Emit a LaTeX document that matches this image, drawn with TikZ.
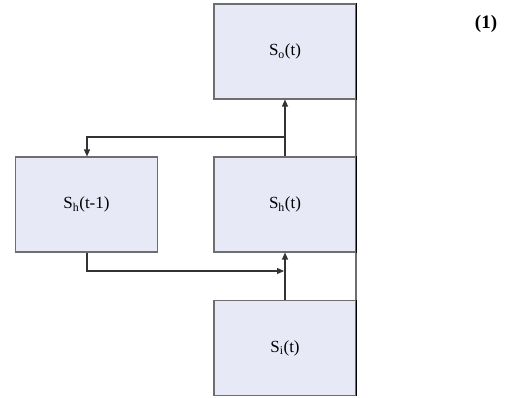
\documentclass[tikz,border=0pt]{standalone}
\usepackage{fontspec}
\setmainfont{Liberation Serif}
\usetikzlibrary{arrows.meta}
\definecolor{boxfill}{HTML}{E7EAF6}
\definecolor{boxline}{HTML}{6E6E6E}
\begin{document}
\begin{tikzpicture}[x=1pt,y=-1pt,
  unit/.style={draw=boxline,fill=boxfill,line width=1.1pt,minimum width=142pt,minimum height=95pt,inner sep=0pt,font=\fontsize{17}{19}\selectfont},
  wire/.style={draw=black!80,line width=1.2pt},
  flow/.style={wire,-{Triangle[length=7pt,width=6pt]}}]
\useasboundingbox (0,0) rectangle (512,397);
% right-hand bus joining the three stacked units
\coordinate (busTop) at (356,4);
\coordinate (busBot) at (356,395);
\draw[draw=boxline,line width=1.2pt] (busTop) -- (busBot);
% units
\node[unit] (so) at (285,51.5) {S\textsubscript{o}(t)};
\node[unit] (sh) at (285,204.5) {S\textsubscript{h}(t)};
\node[unit] (sc) at (86.5,204.5) {S\textsubscript{h}(t-1)};
\node[unit] (si) at (285,348) {S\textsubscript{i}(t)};
% darker right edges on the stacked column
\foreach \n in {so,sh,si}
  \draw[black,line width=1.6pt] (\n.north east) -- (\n.south east);
% connectors
\draw[flow] (sh.north) -- (so.south);
\coordinate (split) at (284,137);
\coordinate (turnL) at (87,137);
\draw[flow] (split) -- (turnL) -- (sc.north -| turnL);
\coordinate (downL) at (87,271);
\coordinate (joinR) at (284,271);
\draw[flow] (sc.south -| downL) -- (downL) -- (joinR);
\draw[flow] (si.north) -- (sh.south);
% equation number
\node[font=\fontsize{19}{21}\selectfont\bfseries] (eqn) at (486,24) {(1)};
\end{tikzpicture}
\end{document}
